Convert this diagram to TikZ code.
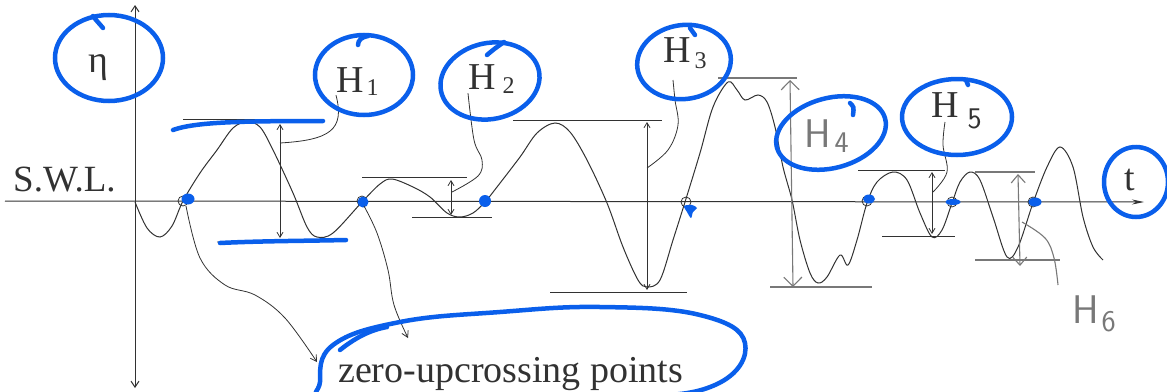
\documentclass[tikz,border=0pt]{standalone}
\usepackage{fontspec}
\setmainfont{Liberation Serif}
\newfontfamily\printfont{Liberation Serif}
\usetikzlibrary{arrows.meta}
\definecolor{ink}{RGB}{50,50,50}
\definecolor{pencil}{RGB}{120,120,120}
\definecolor{pen}{RGB}{10,95,235}
\newcommand{\Hsub}[3]{H\kern#2\raisebox{-#3}{\fontsize{24}{24}\selectfont #1}}
\begin{document}
\begin{tikzpicture}[x=1pt,y=-1pt,
  inkline/.style={draw=ink, line width=1pt},
  refline/.style={draw=ink, line width=0.9pt},
  penciline/.style={draw=pencil, line width=1.1pt},
  dimarrow/.style={draw=ink, line width=0.8pt, {Straight Barb[length=5pt,width=6pt]}-{Straight Barb[length=5pt,width=6pt]}},
  handarrow/.style={draw=pencil, line width=1.1pt, {Straight Barb[length=9pt,width=18pt]}-{Straight Barb[length=9pt,width=18pt]}},
  leader/.style={draw=ink, line width=0.8pt},
  bluering/.style={draw=pen, line width=4.5pt, line cap=round},
  bluedot/.style={fill=pen},
  xmark/.style={draw=ink, line width=0.8pt},
  lbl/.style={inner sep=0pt, font=\printfont\fontsize{38}{40}\selectfont, text=ink},
  handlbl/.style={inner sep=0pt, font=\sffamily\fontsize{40}{42}\selectfont, text=pencil}
]
\useasboundingbox (0,0) rectangle (1167,391);
\clip (0,0) rectangle (1167,391);

% axes
\coordinate (otop) at (135,5);
\coordinate (obot) at (135,388);
\coordinate (oleft) at (5,201);
\coordinate (oright) at (1144,202);
\draw[inkline, {Straight Barb[length=6pt,width=8pt]}-{Straight Barb[length=6pt,width=8pt]}] (obot) -- (otop);
\draw[inkline, -{Stealth[length=12pt,width=5pt]}] (oleft) -- (oright);

% wave record
\draw[inkline] plot[smooth, tension=0.55] coordinates {
 (135,202) (147,228) (160,237) (172,226) (183,201) (200,173) (217,150) (233,128) (247,122)
 (260,127) (273,150) (293,193) (307,227) (317,237) (333,233) (362,202) (380,184) (392,179)
 (413,187) (430,197) (447,213) (460,217) (473,213) (485,202) (497,187) (520,157) (537,133)
 (555,123) (570,132) (587,160) (607,203) (623,247) (638,280) (647,287) (660,280) (673,240)
 (685,202) (700,153) (713,107) (728,82) (737,90) (745,100) (758,95) (767,102) (775,127)
 (783,167) (792,200) (800,240) (810,273) (818,283) (827,277) (840,255) (848,265) (857,240)
 (867,203) (877,182) (893,172) (907,180) (920,213) (932,237) (942,230) (952,203) (960,182)
 (970,172) (980,180) (993,217) (1007,257) (1018,247) (1033,203) (1047,167) (1060,147)
 (1073,167) (1083,217) (1093,247) (1103,260)};

% zero-upcrossing markers
\coordinate (c1) at (183,201);
\coordinate (c2) at (362,201);
\coordinate (c3) at (485,201);
\coordinate (c4) at (686,202);
\coordinate (c5) at (867,201);
\coordinate (c6) at (952,202);
\coordinate (c7) at (1033,202);
\foreach \p in {c1,c2,c3,c4,c5,c6,c7}
  \draw[xmark] (\p) circle (5pt);
\fill[bluedot] (188,199) ellipse (6.5pt and 5.5pt);
\fill[bluedot] (363,202) circle (5.5pt);
\fill[bluedot] (485,201) circle (6pt);
\fill[bluedot] plot[smooth cycle] coordinates {(684,206) (692,205) (697,208) (693,212) (691,218) (687,212)};
\fill[bluedot] (869,199) ellipse (6pt and 4.5pt);
\fill[bluedot] (953,202) ellipse (7.5pt and 3pt);
\fill[bluedot] (1035,202) ellipse (6.5pt and 4.5pt);

% H1
\coordinate (h1t) at (280,124); \coordinate (h1b) at (280,238);
\draw[refline] (183,119) -- (323,119);
\draw[refline] (217,242) -- (347,241);
\draw[dimarrow] (h1b) -- (h1t);
\coordinate (h1l) at (280,143);
\node[lbl, anchor=base west] (H1) at (336,92) {\Hsub{1}{3pt}{3pt}};
\draw[leader] (h1l) .. controls (330,140) and (345,130) .. (H1.south west);
\draw[bluering] (173,130) .. controls (195,122) and (240,121) .. (323,121);
\draw[bluering] (220,243) .. controls (260,241) and (300,241) .. (346,240);

% H2
\coordinate (h2t) at (451,180); \coordinate (h2b) at (451,215);
\draw[refline] (362,177) -- (467,177);
\draw[refline] (412,217) -- (492,217);
\draw[dimarrow] (h2b) -- (h2t);
\node[lbl, anchor=base west] (H2) at (468,89) {\Hsub{2}{7pt}{4pt}};
\draw[leader] plot[smooth, tension=0.6] coordinates {(452,192) (478,176) (482,160) (474,140) (H2.south west)};

% H3
\coordinate (h3t) at (647,122); \coordinate (h3b) at (647,290);
\draw[refline] (513,120) -- (662,120);
\draw[refline] (550,292) -- (687,292);
\draw[dimarrow] (h3b) -- (h3t);
\node[lbl, anchor=base west] (H3) at (663,62) {\Hsub{3}{4pt}{6pt}};
\draw[leader] plot[smooth, tension=0.6] coordinates {(647,168) (668,150) (678,125) (675,100) (673,80)};

% H4 (pencil)
\coordinate (h4t) at (790,80); \coordinate (h4b) at (793,287);
\draw[penciline] (718,78) -- (797,78);
\draw[penciline] (770,287) -- (872,287);
\draw[handarrow] (h4b) -- (h4t);
\node[handlbl, anchor=base west] (H4) at (804,147) {H\kern4pt\raisebox{-5pt}{\fontsize{30}{30}\selectfont 4}};

% H5
\coordinate (h5t) at (932,172); \coordinate (h5b) at (932,234);
\draw[refline] (858,170) -- (945,170);
\draw[refline] (882,236) -- (955,236);
\draw[dimarrow] (h5b) -- (h5t);
\node[lbl, anchor=base west] (H5) at (931,117) {H\kern9pt\raisebox{-11pt}{\sffamily\fontsize{30}{30}\selectfont 5}};
\draw[leader] plot[smooth, tension=0.6] coordinates {(933,192) (947,172) (943,145) (945,122)};

% H6 (pencil)
\coordinate (h6t) at (1018,174); \coordinate (h6b) at (1020,266);
\draw[penciline] (975,172) -- (1035,172);
\draw[penciline] (975,260) -- (1060,260);
\draw[handarrow, {Straight Barb[length=8pt,width=14pt]}-{Straight Barb[length=8pt,width=14pt]}] (h6b) -- (h6t);
\node[handlbl, anchor=base west] (H6) at (1072,323) {H\kern3pt\raisebox{-8pt}{\fontsize{30}{30}\selectfont 6}};
\draw[penciline] plot[smooth, tension=0.6] coordinates {(1022,222) (1045,238) (1054,258) (1058,285)};

% other labels
\node[lbl, anchor=base west] (swl) at (13,191) {\fontsize{37}{40}\selectfont S.W.L.};
\node[lbl] (eta) at (98,68) {η};
\node[lbl, anchor=base] (tl) at (1130,190) {t};
\node[lbl, anchor=base west] (zup) at (338,382) {zero-upcrossing points};

% arrows to the text
\draw[leader, -{Straight Barb[length=6pt,width=7pt]}] plot[smooth, tension=0.6] coordinates {(186,206) (200,258) (225,285) (255,295) (285,318) (317,362)};
\draw[leader, -{Straight Barb[length=6pt,width=7pt]}] plot[smooth, tension=0.6] coordinates {(364,206) (377,233) (388,270) (394,305) (408,338)};

% blue rings
\draw[bluering] (109,58) ellipse (54pt and 43pt);
\draw[bluering] (103,28) .. controls (98,22) and (94,18) .. (93,16);
\draw[bluering] (364,75) ellipse (49pt and 40pt);
\draw[bluering] (358,45) .. controls (358,40) and (362,37) .. (368,36);
\draw[bluering, rotate around={12:(490,81)}] (490,81) ellipse (50pt and 38pt);
\draw[bluering] (487,55) .. controls (495,48) and (500,45) .. (504,42);
\draw[bluering, rotate around={8:(684,62)}] (684,62) ellipse (47pt and 37pt);
\draw[bluering] (690,28) .. controls (692,32) .. (695,35);
\draw[bluering, rotate around={15:(831,133)}] (831,133) ellipse (56pt and 35pt);
\draw[bluering] (850,103) .. controls (854,107) .. (853,115);
\draw[bluering] (957,117) ellipse (55pt and 38pt);
\draw[bluering] (966,80) -- (968,85);
\draw[bluering] (1136,182) ellipse (32pt and 35pt);
\draw[bluering] plot[smooth cycle, tension=0.7] coordinates {(333,345) (400,322) (500,312) (600,307) (700,315) (745,343) (715,385) (620,398) (450,402) (330,400) (320,382)};
\draw[bluering] (340,350) .. controls (355,338) and (370,330) .. (387,327);
\end{tikzpicture}
\end{document}
